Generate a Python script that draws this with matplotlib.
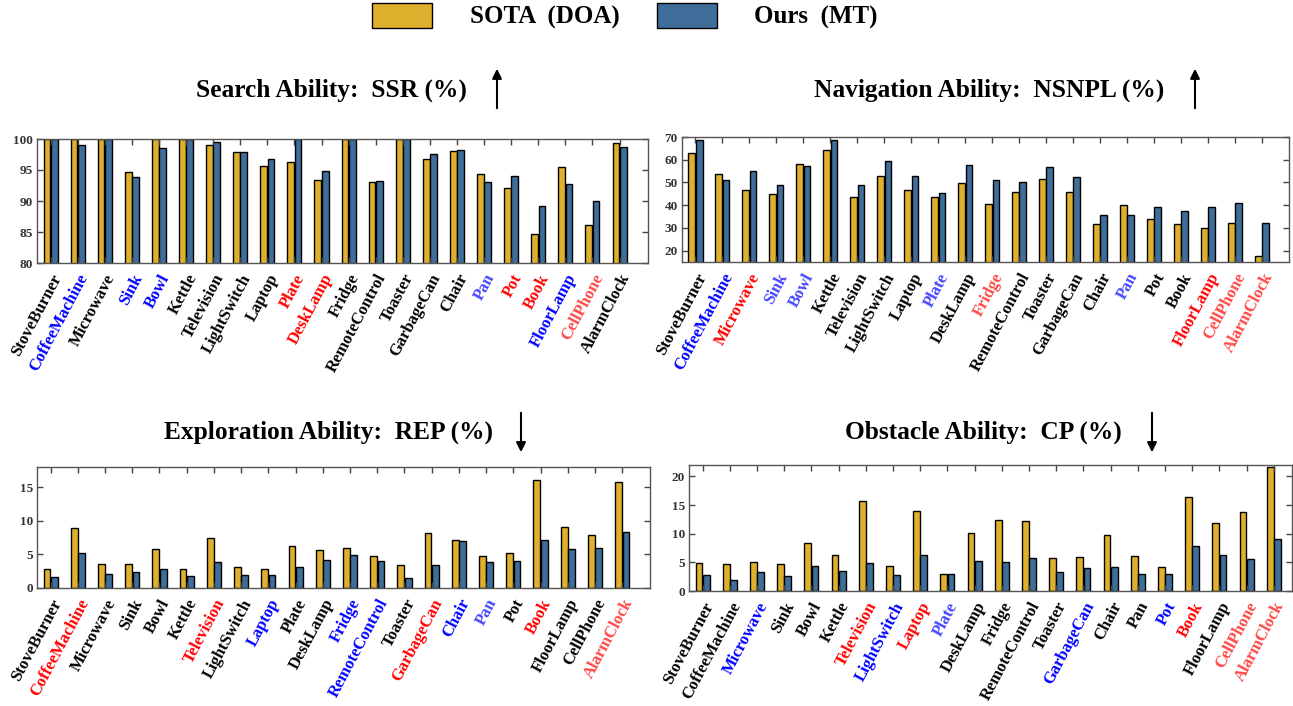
import numpy as np
import matplotlib.pyplot as plt
from matplotlib.patches import Patch, FancyArrowPatch

plt.rcParams['font.family'] = ['Liberation Serif', 'DejaVu Serif']
plt.rcParams['font.weight'] = 'bold'

W, H = 1293, 706

categories = ['StoveBurner', 'CoffeeMachine', 'Microwave', 'Sink', 'Bowl', 'Kettle',
              'Television', 'LightSwitch', 'Laptop', 'Plate', 'DeskLamp', 'Fridge',
              'RemoteControl', 'Toaster', 'GarbageCan', 'Chair', 'Pan', 'Pot', 'Book',
              'FloorLamp', 'CellPhone', 'AlarmClock']

# Search ability (SSR %)
ssr_sota = [100, 100, 100, 94.6, 100, 100, 99.1, 97.95, 95.7, 96.3, 93.4,
            100, 93.0, 100, 96.8, 98.0, 94.3, 92.1, 84.7, 95.5, 86.2, 99.3]
ssr_ours = [100, 99.1, 100, 93.9, 98.5, 100, 99.5, 97.9, 96.8, 100, 94.9,
            100, 93.2, 100, 97.6, 98.2, 93.1, 94.1, 89.2, 92.7, 90.0, 98.7]
ssr_colors = ['k', 'b', 'k', 'b', 'b', 'k', 'k', 'k', 'k', 'r', 'r',
              'k', 'k', 'k', 'k', 'k', 'lb', 'r', 'r', 'b', 'lr', 'k']

# Navigation ability (NSNPL %)
nsnpl_sota = [62.8, 53.7, 46.5, 44.7, 58.2, 64.3, 43.8, 52.9, 46.8, 43.4, 49.7,
              40.4, 45.7, 51.5, 45.6, 31.6, 40.3, 33.8, 31.6, 30.0, 32.2, 17.8]
nsnpl_ours = [68.7, 50.9, 55.0, 48.7, 57.2, 68.5, 48.8, 59.3, 52.8, 45.3, 57.8,
              51.2, 50.0, 56.8, 52.5, 35.7, 35.7, 39.0, 37.5, 39.1, 40.9, 32.1]
nsnpl_colors = ['k', 'b', 'r', 'lb', 'lb', 'k', 'k', 'k', 'k', 'lb', 'k',
                'lr', 'k', 'k', 'k', 'k', 'lb', 'k', 'k', 'r', 'lr', 'lr']

# Exploration ability (REP %)
rep_sota = [2.8, 9.0, 3.6, 3.55, 5.8, 2.9, 7.4, 3.1, 2.8, 6.3, 5.7,
            6.0, 4.8, 3.35, 8.15, 7.1, 4.8, 5.25, 16.1, 9.05, 7.9, 15.8]
rep_ours = [1.7, 5.15, 2.15, 2.4, 2.8, 1.8, 3.8, 2.0, 2.0, 3.15, 4.1,
            4.9, 3.95, 1.55, 3.4, 6.95, 3.8, 4.0, 7.15, 5.75, 6.0, 8.3]
rep_colors = ['k', 'r', 'k', 'k', 'k', 'k', 'r', 'k', 'b', 'k', 'k',
              'b', 'b', 'k', 'r', 'b', 'lb', 'k', 'r', 'k', 'k', 'lr']

# Obstacle ability (CP %)
cp_sota = [4.9, 4.65, 5.1, 4.75, 8.45, 6.2, 15.65, 4.35, 14.0, 2.95, 10.2,
           12.35, 12.2, 5.8, 6.0, 9.8, 6.15, 4.2, 16.5, 11.95, 13.85, 21.7]
cp_ours = [2.8, 2.0, 3.3, 2.7, 4.4, 3.55, 4.9, 2.85, 6.3, 2.95, 5.3,
           5.1, 5.8, 3.4, 4.1, 4.2, 2.9, 2.9, 7.8, 6.25, 5.55, 9.0]
cp_colors = ['k', 'k', 'b', 'k', 'k', 'k', 'r', 'b', 'r', 'lb', 'k',
             'k', 'k', 'k', 'b', 'k', 'k', 'b', 'r', 'k', 'lr', 'lr']

label_col = {'k': 'black', 'b': '#0000ff', 'lb': '#4545ff', 'r': '#ff0000', 'lr': '#ff4848'}
gold = '#dfb02e'
steel = '#3e6e99'


def px(x, y):
    return x / W, 1 - y / H


fig = plt.figure(figsize=(W / 100, H / 100), dpi=100)


def panel(rect, sota, ours, colors, ylim, yticks, xmax):
    l, t, r, b = rect
    x0, y0 = px(l, b)
    x1, y1 = px(r, t)
    ax = fig.add_axes([x0, y0, x1 - x0, y1 - y0])
    x = np.arange(len(categories))
    ax.bar(x - 0.135, sota, 0.25, color=gold, edgecolor='black', linewidth=1.0)
    ax.bar(x + 0.135, ours, 0.25, color=steel, edgecolor='black', linewidth=1.0)
    ax.set_xlim(-0.5, xmax)
    ax.set_ylim(*ylim)
    ax.set_yticks(yticks)
    ax.set_xticks(x)
    ax.set_xticklabels(categories, rotation=62, ha='right', rotation_mode='anchor',
                       fontsize=12, fontweight='bold')
    for lab, c in zip(ax.get_xticklabels(), colors):
        lab.set_color(label_col[c])
    ax.tick_params(axis='both', direction='in', top=True, right=True, length=4,
                   width=1, color='#444444')
    ax.tick_params(axis='y', labelsize=9.5, labelcolor='#333333', pad=3)
    ax.tick_params(axis='x', pad=6)
    for s in ax.spines.values():
        s.set_color('#555555')
        s.set_linewidth(1.0)
    return ax


panel((37, 139, 648, 263), ssr_sota, ssr_ours, ssr_colors, (80, 100), [80, 85, 90, 95, 100], 22.05)
panel((682, 137, 1289, 262), nsnpl_sota, nsnpl_ours, nsnpl_colors, (15, 70), [20, 30, 40, 50, 60, 70], 22.0)
panel((37, 467, 650, 588), rep_sota, rep_ours, rep_colors, (0, 18), [0, 5, 10, 15], 22.02)
panel((689, 465, 1292, 591), cp_sota, cp_ours, cp_colors, (0, 22), [0, 5, 10, 15, 20], 21.67)

# titles and arrows
titles = [('Search Ability:  SSR (%)', 331, 90), ('Navigation Ability:  NSNPL (%)', 989, 90),
          ('Exploration Ability:  REP (%)', 328, 432), ('Obstacle Ability:  CP (%)', 983, 432)]
for txt, tx, ty in titles:
    fig.text(*px(tx, ty), txt, ha='center', va='center', fontsize=18.3, fontweight='bold')

arrows = [(497, 111, 66), (1195, 111, 66), (521, 410, 455), (1152, 410, 455)]
for ax_x, ya, yb in arrows:
    fig.add_artist(FancyArrowPatch(px(ax_x, ya), px(ax_x, yb), transform=fig.transFigure,
                                   arrowstyle='-|>', mutation_scale=14, color='black', lw=1.5))

handles = [Patch(facecolor=gold, edgecolor='black', label='SOTA  (DOA)'),
           Patch(facecolor=steel, edgecolor='black', label='Ours  (MT)')]
fig.legend(handles=handles, loc='center', bbox_to_anchor=px(625, 16), ncol=2, frameon=False,
           handlelength=2.4, handleheight=1.15, handletextpad=1.5, columnspacing=1.5,
           prop={'weight': 'bold', 'size': 18})

fig.savefig('out.png', dpi=100)
